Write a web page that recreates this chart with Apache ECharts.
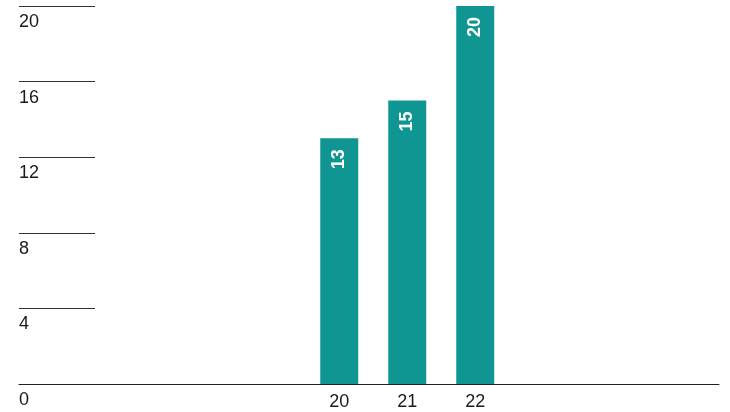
<!DOCTYPE html>
<html>
<head>
<meta charset="utf-8">
<script src="https://cdn.jsdelivr.net/npm/echarts@6/dist/echarts.min.js"></script>
<style>
  html, body { margin: 0; padding: 0; background: #fff; }
  #chart { width: 730px; height: 412px; }
</style>
</head>
<body>
<div id="chart"></div>
<script>
// Chart data
const categories = [20, 21, 22];
const values = [13, 15, 20];
const yTicks = { min: 0, max: 20, step: 4 };

const FONT = '"Liberation Sans", Arial, Helvetica, sans-serif';
const TEXT = '#1a1a1a';
const BAR = '#109692';

const chart = echarts.init(document.getElementById('chart'), null, { renderer: 'canvas' });

chart.setOption({
  animation: false,
  textStyle: { fontFamily: FONT },
  grid: [
    // main plotting area with bars and baseline
    { left: 19, width: 700, top: 6, height: 378, containLabel: false },
    // narrow strip holding the short value-axis rules and their labels
    { left: 19, width: 76, top: 6, height: 378, containLabel: false }
  ],
  xAxis: [
    {
      type: 'value',
      gridIndex: 0,
      min: 15.29,
      max: 25.585,
      splitLine: { show: false },
      axisLine: { show: true, lineStyle: { color: '#222', width: 1 } },
      axisTick: { show: false },
      axisLabel: {
        customValues: categories,
        color: TEXT,
        fontSize: 18,
        fontFamily: FONT,
        margin: 9
      }
    },
    {
      type: 'value',
      gridIndex: 1,
      show: false,
      min: 0,
      max: 1
    }
  ],
  yAxis: [
    {
      type: 'value',
      gridIndex: 0,
      min: yTicks.min,
      max: yTicks.max,
      interval: yTicks.step,
      show: false,
      splitLine: { show: false }
    },
    {
      type: 'value',
      gridIndex: 1,
      min: yTicks.min,
      max: yTicks.max,
      interval: yTicks.step,
      axisLine: { show: false },
      axisTick: { show: false },
      splitLine: { show: true, lineStyle: { color: '#333', width: 1 } },
      axisLabel: {
        inside: true,
        margin: 0,
        align: 'left',
        verticalAlign: 'top',
        padding: [7, 0, 0, 0],
        color: TEXT,
        fontSize: 18,
        fontFamily: FONT
      }
    }
  ],
  series: [
    {
      type: 'bar',
      xAxisIndex: 0,
      yAxisIndex: 0,
      barWidth: 38,
      data: categories.map((c, i) => [c, values[i]]),
      itemStyle: { color: BAR },
      label: {
        show: true,
        position: 'insideTop',
        rotate: 90,
        align: 'right',
        verticalAlign: 'middle',
        distance: 11,
        color: '#fff',
        fontWeight: 'bold',
        fontSize: 18,
        fontFamily: FONT,
        formatter: p => String(p.value[1])
      }
    }
  ]
});
</script>
</body>
</html>
